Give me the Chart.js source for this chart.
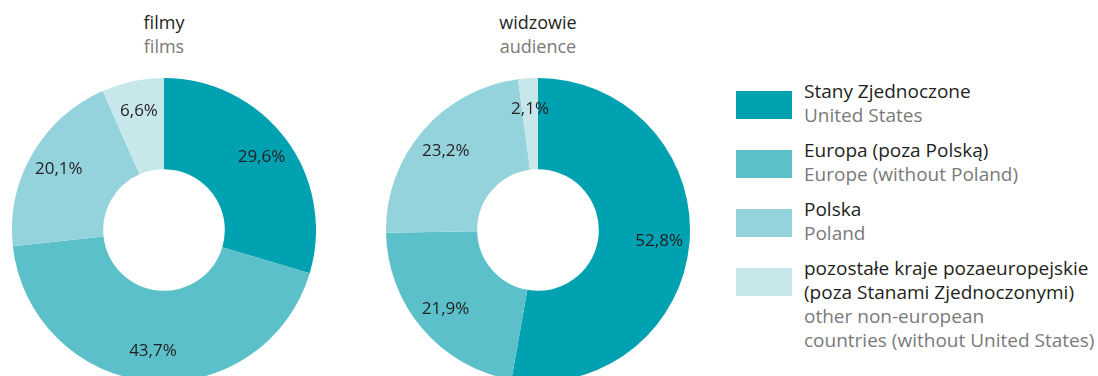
<!DOCTYPE html>
<html lang="pl">
<head>
<meta charset="utf-8">
<title>Filmy i widzowie</title>
<script src="https://cdn.jsdelivr.net/npm/chart.js@4.4.1/dist/chart.umd.min.js"></script>
<style>
    html, body {
        margin: 0;
        padding: 0;
        width: 1098px;
        height: 376px;
        overflow: hidden;
        background: #fff;
        font-family: "Open Sans", "Noto Sans", sans-serif;
        color: #231f20;
    }
    .chart-box { position: absolute; }
    .chart-title {
        position: absolute;
        width: 200px;
        text-align: center;
        font-size: 18px;
        line-height: 24px;
    }
    .chart-title .en { color: #7a7a7a; }
    #legend {
        position: absolute;
        left: 736px;
        top: 79px;
        margin: 0;
        padding: 0;
        list-style: none;
    }
    #legend li {
        position: relative;
        padding-left: 68px;
        margin-bottom: 11px;
        font-size: 19px;
        line-height: 24px;
        white-space: nowrap;
    }
    #legend .swatch {
        position: absolute;
        left: 0;
        top: 12px;
        width: 56px;
        height: 28px;
    }
    #legend .en { color: #7a7a7a; }
</style>
</head>
<body>

<div class="chart-title" style="left:64px; top:10px;">filmy<br><span class="en">films</span></div>
<div class="chart-title" style="left:438px; top:10px;">widzowie<br><span class="en">audience</span></div>

<canvas id="chart-filmy" class="chart-box" width="304" height="304" style="left:12px; top:78px;"></canvas>
<canvas id="chart-widzowie" class="chart-box" width="304" height="304" style="left:386px; top:78px;"></canvas>

<ul id="legend"></ul>

<script>
// categories (PL / EN)
const kategoriePL = ["Stany Zjednoczone", "Europa (poza Polską)", "Polska", "pozostałe kraje pozaeuropejskie<br>(poza Stanami Zjednoczonymi)"];
const kategorieEN = ["United States", "Europe (without Poland)", "Poland", "other non-european<br>countries (without United States)"];
const kolory = ["#00a1b1", "#5bc0ca", "#95d3dc", "#c8e7eb"];

// shares in %
const udzialFilmy = [29.6, 43.7, 20.1, 6.6];
const udzialWidzowie = [52.8, 21.9, 23.2, 2.1];

// percentage labels drawn on each arc
const etykietyPlugin = {
    id: 'etykiety',
    afterDatasetsDraw(chart) {
        const ctx = chart.ctx;
        const meta = chart.getDatasetMeta(0);
        const values = chart.data.datasets[0].data;
        ctx.save();
        ctx.font = '17px "Open Sans", "Noto Sans", sans-serif';
        ctx.fillStyle = '#231f20';
        ctx.textAlign = 'center';
        ctx.textBaseline = 'middle';
        meta.data.forEach((arc, i) => {
            const mid = (arc.startAngle + arc.endAngle) / 2;
            const r = arc.outerRadius * 0.8;
            const x = arc.x + Math.cos(mid) * r;
            const y = arc.y + Math.sin(mid) * r;
            ctx.fillText(values[i].toFixed(1).replace('.', ',') + '%', x, y);
        });
        ctx.restore();
    }
};

function rysujPierscien(id, dane) {
    const ctx = document.getElementById(id).getContext('2d');
    return new Chart(ctx, {
        type: 'doughnut',
        data: {
            labels: kategorieEN,
            datasets: [{
                data: dane,
                backgroundColor: kolory,
                borderWidth: 0,
                hoverOffset: 0,
                offset: 0
            }]
        },
        options: {
            responsive: false,
            animation: false,
            cutout: '40%',
            layout: { padding: 0 },
            plugins: {
                legend: { display: false },
                tooltip: { enabled: false }
            },
            events: []
        },
        plugins: [etykietyPlugin]
    });
}

rysujPierscien('chart-filmy', udzialFilmy);
rysujPierscien('chart-widzowie', udzialWidzowie);

// legend
const legenda = document.getElementById('legend');
kategoriePL.forEach((pl, i) => {
    const li = document.createElement('li');
    li.innerHTML = `<span class="swatch" style="background:${kolory[i]}"></span>` +
        `<div>${pl}</div><div class="en">${kategorieEN[i]}</div>`;
    legenda.appendChild(li);
});
</script>
</body>
</html>
